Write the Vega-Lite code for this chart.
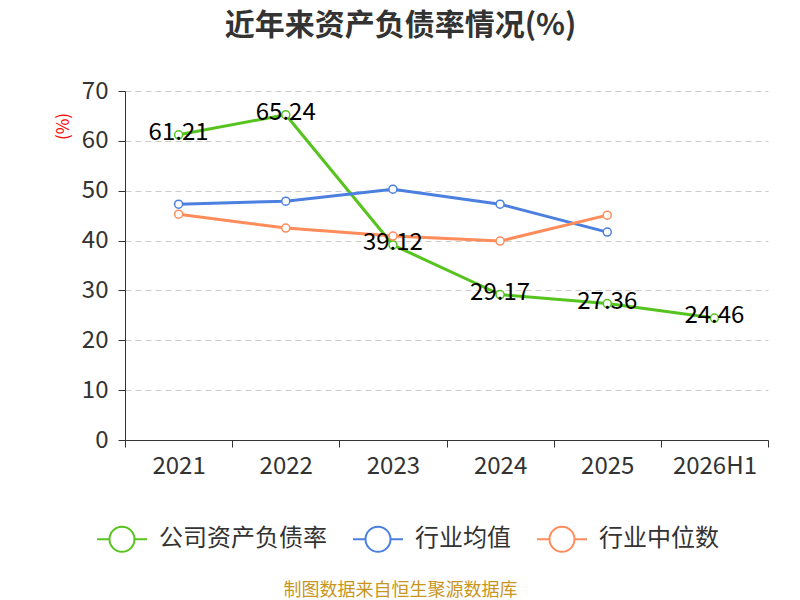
{
  "$schema": "https://vega.github.io/schema/vega-lite/v6.json",
  "width": 643,
  "height": 349,
  "autosize": "none",
  "padding": {"left": 125, "top": 91, "right": 32, "bottom": 160},
  "background": "white",
  "config": {
    "font": "Noto Sans CJK SC",
    "view": {"stroke": null}
  },
  "title": {
    "text": "近年来资产负债率情况(%)",
    "fontSize": 30,
    "fontWeight": "bold",
    "color": "#333333",
    "anchor": "middle",
    "frame": "group",
    "dx": -46,
    "offset": 38
  },
  "data": {
    "values": [
      {"year": "2021", "series": "公司资产负债率", "value": 61.21},
      {"year": "2022", "series": "公司资产负债率", "value": 65.24},
      {"year": "2023", "series": "公司资产负债率", "value": 39.12},
      {"year": "2024", "series": "公司资产负债率", "value": 29.17},
      {"year": "2025", "series": "公司资产负债率", "value": 27.36},
      {"year": "2026H1", "series": "公司资产负债率", "value": 24.46},
      {"year": "2021", "series": "行业均值", "value": 47.3},
      {"year": "2022", "series": "行业均值", "value": 47.9},
      {"year": "2023", "series": "行业均值", "value": 50.3},
      {"year": "2024", "series": "行业均值", "value": 47.3},
      {"year": "2025", "series": "行业均值", "value": 41.7},
      {"year": "2021", "series": "行业中位数", "value": 45.3},
      {"year": "2022", "series": "行业中位数", "value": 42.5},
      {"year": "2023", "series": "行业中位数", "value": 40.9},
      {"year": "2024", "series": "行业中位数", "value": 39.9},
      {"year": "2025", "series": "行业中位数", "value": 45.1}
    ]
  },
  "encoding": {
    "x": {
      "field": "year",
      "type": "ordinal",
      "sort": null,
      "scale": {"type": "band", "paddingInner": 0, "paddingOuter": 0},
      "axis": {
        "title": "制图数据来自恒生聚源数据库",
        "titleColor": "#C8961E",
        "titleFontSize": 18,
        "titleFontWeight": "normal",
        "titleX": 275,
        "titleY": 150,
        "titleAlign": "center",
        "titleBaseline": "middle",
        "labelAngle": 0,
        "labelFontSize": 24,
        "labelColor": "#333333",
        "labelPadding": 7,
        "domainColor": "#333333",
        "tickColor": "#333333",
        "tickSize": 7,
        "tickBand": "extent",
        "grid": false
      }
    },
    "y": {
      "field": "value",
      "type": "quantitative",
      "scale": {"domain": [0, 70], "nice": false},
      "axis": {
        "title": "(%)",
        "titleColor": "#ff0000",
        "titleFontSize": 17,
        "titleFontWeight": "normal",
        "titleX": -62,
        "titleY": 35,
        "titleAlign": "center",
        "titleBaseline": "middle",
        "titleAngle": -90,
        "values": [0, 10, 20, 30, 40, 50, 60, 70],
        "labelFontSize": 24,
        "labelColor": "#333333",
        "labelPadding": 10,
        "domainColor": "#333333",
        "tickColor": "#333333",
        "tickSize": 7,
        "grid": true,
        "gridColor": "#cccccc",
        "gridDash": [6, 4],
        "gridWidth": 1.2
      }
    },
    "color": {
      "field": "series",
      "type": "nominal",
      "sort": ["公司资产负债率", "行业均值", "行业中位数"],
      "scale": {
        "domain": ["公司资产负债率", "行业均值", "行业中位数"],
        "range": ["#56c31f", "#4c80e0", "#ff8c5a"]
      },
      "legend": {
        "title": null,
        "orient": "none",
        "direction": "horizontal",
        "legendX": -29,
        "legendY": 422,
        "symbolType": "M -0.5 0 A 0.5 0.5 0 1 1 0.5 0 A 0.5 0.5 0 1 1 -0.5 0 M -1 0 L -0.5 0 M 0.5 0 L 1 0",
        "symbolSize": 2500,
        "symbolStrokeWidth": 2,
        "symbolFillColor": "white",
        "symbolOpacity": 1,
        "labelFontSize": 24,
        "labelColor": "#333333",
        "labelOffset": 11,
        "labelLimit": 300,
        "columnPadding": 22,
        "padding": 0
      }
    }
  },
  "layer": [
    {
      "mark": {"type": "line", "strokeWidth": 3}
    },
    {
      "mark": {"type": "point", "filled": false, "fill": "white", "fillOpacity": 1, "opacity": 1, "size": 64, "strokeWidth": 1.5}
    },
    {
      "transform": [{"filter": "datum.series === '公司资产负债率'"}],
      "mark": {"type": "text", "fontSize": 24, "baseline": "middle", "dy": -2},
      "encoding": {
        "text": {"field": "value", "type": "quantitative", "format": ".2f"},
        "color": {"value": "#000000"}
      }
    }
  ]
}
